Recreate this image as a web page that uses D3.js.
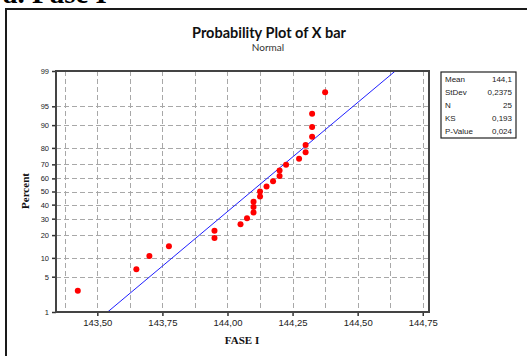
<!DOCTYPE html>
<html>
<head>
<meta charset="utf-8">
<script src="https://cdn.jsdelivr.net/npm/d3@7/dist/d3.min.js"></script>
<style>
  html, body { margin: 0; padding: 0; background: #fff; }
  svg { display: block; }
</style>
</head>
<body>
<svg id="chart" width="527" height="356"></svg>
<script>
// Subgroup means (X bar), Phase I
const xbar = [
  143.425, 143.650, 143.700, 143.775, 143.950, 143.950, 144.050, 144.075,
  144.100, 144.100, 144.100, 144.125, 144.125, 144.150, 144.175, 144.200,
  144.200, 144.225, 144.275, 144.300, 144.300, 144.325, 144.325, 144.325,
  144.375
];
const xTicks = [143.50, 143.75, 144.00, 144.25, 144.50, 144.75];
const xGrid = [143.375, 143.50, 143.625, 143.75, 143.875, 144.00, 144.125,
               144.25, 144.375, 144.50, 144.625, 144.75];
const pctTicks = [1, 5, 10, 20, 30, 40, 50, 60, 70, 80, 90, 95, 99];
const statLabels = ["Mean", "StDev", "N", "KS", "P-Value"];
const ksStat = 0.193;
const pValue = 0.024;

// Inverse standard normal CDF (Acklam's rational approximation)
function qnorm(p) {
  const a = [-3.969683028665376e+01, 2.209460984245205e+02, -2.759285104469687e+02,
             1.383577518672690e+02, -3.066479806614716e+01, 2.506628277459239e+00];
  const b = [-5.447609879822406e+01, 1.615858368580409e+02, -1.556989798598866e+02,
             6.680131188771972e+01, -1.328068155288572e+01];
  const c = [-7.784894002430293e-03, -3.223964580411365e-01, -2.400758277161838e+00,
             -2.549732539343734e+00, 4.374664141464968e+00, 2.938163982698783e+00];
  const d = [7.784695709041462e-03, 3.224671290700398e-01, 2.445134137142996e+00,
             3.754408661907416e+00];
  const plow = 0.02425, phigh = 1 - plow;
  let q, r;
  if (p < plow) {
    q = Math.sqrt(-2 * Math.log(p));
    return (((((c[0]*q+c[1])*q+c[2])*q+c[3])*q+c[4])*q+c[5]) /
           ((((d[0]*q+d[1])*q+d[2])*q+d[3])*q+1);
  }
  if (p <= phigh) {
    q = p - 0.5; r = q * q;
    return (((((a[0]*r+a[1])*r+a[2])*r+a[3])*r+a[4])*r+a[5])*q /
           (((((b[0]*r+b[1])*r+b[2])*r+b[3])*r+b[4])*r+1);
  }
  q = Math.sqrt(-2 * Math.log(1 - p));
  return -(((((c[0]*q+c[1])*q+c[2])*q+c[3])*q+c[4])*q+c[5]) /
          ((((d[0]*q+d[1])*q+d[2])*q+d[3])*q+1);
}

const svg = d3.select("#chart");
const comma = s => s.replace(".", ",");

// Outer frame and heading
svg.append("rect").attr("x", 6).attr("y", 9).attr("width", 640).attr("height", 420)
  .attr("fill", "none").attr("stroke", "#1a1a1a").attr("stroke-width", 2);
svg.append("text").attr("x", 3).attr("y", 3)
  .attr("font-family", "Liberation Serif").attr("font-weight", "bold")
  .attr("font-size", 29).attr("fill", "#000").text("a. Fase I");

// Plot geometry
const L = 56, R = 429, T = 71, B = 312;
const sorted = xbar.slice().sort(d3.ascending);
const n = sorted.length;
const mean = d3.mean(sorted);
const sd = d3.deviation(sorted);

const x = d3.scaleLinear().domain([143.3413, 144.774]).range([L, R]);
const y = d3.scaleLinear().domain([qnorm(0.01), qnorm(0.99)]).range([B, T]);

// Grid
const grid = svg.append("g").attr("stroke", "#a8a8a8").attr("stroke-width", 1)
  .attr("stroke-dasharray", "5,3");
grid.selectAll("line.v").data(xGrid).join("line")
  .attr("x1", d => Math.round(x(d)) + 0.5).attr("x2", d => Math.round(x(d)) + 0.5)
  .attr("y1", T).attr("y2", B);
grid.selectAll("line.h").data(pctTicks.filter(p => p > 1 && p < 99)).join("line")
  .attr("x1", L).attr("x2", R)
  .attr("y1", d => Math.round(y(qnorm(d / 100))) + 0.5)
  .attr("y2", d => Math.round(y(qnorm(d / 100))) + 0.5);

// Axes
const xAxis = d3.axisBottom(x).tickValues(xTicks).tickSize(4).tickPadding(3)
  .tickFormat(d => comma(d3.format(".2f")(d)));
const gx = svg.append("g").attr("transform", `translate(0,${B})`).call(xAxis);
gx.select(".domain").remove();
gx.selectAll("line").attr("stroke", "#333").attr("stroke-width", 1.5);
gx.selectAll("text").attr("font-family", "Liberation Sans").attr("font-size", 9.5)
  .attr("fill", "#222");

const yAxis = d3.axisLeft(y).tickValues(pctTicks.map(p => qnorm(p / 100)))
  .tickSize(4).tickPadding(3)
  .tickFormat((d, i) => pctTicks[i]);
const gy = svg.append("g").attr("transform", `translate(${L},0)`).call(yAxis);
gy.select(".domain").remove();
gy.selectAll("line").attr("stroke", "#333").attr("stroke-width", 1.5);
gy.selectAll("text").attr("font-family", "Liberation Sans").attr("font-size", 7.5)
  .attr("fill", "#222");

// Fitted normal line, clipped to the plot area
svg.append("clipPath").attr("id", "plotclip").append("rect")
  .attr("x", L).attr("y", T).attr("width", R - L).attr("height", B - T);
const zLo = qnorm(0.01), zHi = qnorm(0.99);
svg.append("line").attr("clip-path", "url(#plotclip)")
  .attr("x1", x(mean + zLo * sd)).attr("y1", y(zLo))
  .attr("x2", x(mean + zHi * sd)).attr("y2", y(zHi))
  .attr("stroke", "#1f1fff").attr("stroke-width", 1);

// Plot box
svg.append("rect").attr("x", L).attr("y", T).attr("width", R - L).attr("height", B - T)
  .attr("fill", "none").attr("stroke", "#444").attr("stroke-width", 2);

// Data points at median-rank plotting positions
svg.append("g").selectAll("circle").data(sorted).join("circle")
  .attr("cx", d => x(d))
  .attr("cy", (d, i) => y(qnorm((i + 1 - 0.3) / (n + 0.4))))
  .attr("r", 3).attr("fill", "#ff0000");

// Titles
svg.append("text").attr("x", 269).attr("y", 38).attr("text-anchor", "middle")
  .attr("font-family", "Lato").attr("font-weight", "bold").attr("font-size", 14.5)
  .attr("fill", "#111").text("Probability Plot of X bar");
svg.append("text").attr("x", 268).attr("y", 51).attr("text-anchor", "middle")
  .attr("font-family", "Lato").attr("font-size", 10)
  .attr("fill", "#333").text("Normal");
svg.append("text").attr("x", 242).attr("y", 344).attr("text-anchor", "middle")
  .attr("font-family", "Liberation Serif").attr("font-weight", "bold").attr("font-size", 11)
  .attr("fill", "#111").text("FASE I");
svg.append("text").attr("transform", "translate(29,191) rotate(-90)")
  .attr("text-anchor", "middle")
  .attr("font-family", "Liberation Serif").attr("font-weight", "bold").attr("font-size", 11)
  .attr("fill", "#111").text("Percent");

// Statistics box
const statValues = [
  comma(mean.toFixed(1)),
  comma(sd.toFixed(4)),
  String(n),
  comma(ksStat.toFixed(3)),
  comma(pValue.toFixed(3))
];
const bx = 441, by = 72, bw = 75, bh = 66;
svg.append("rect").attr("x", bx).attr("y", by).attr("width", bw).attr("height", bh)
  .attr("fill", "#fff").attr("stroke", "#222").attr("stroke-width", 1.2);
const rows = svg.append("g").attr("font-family", "Liberation Sans").attr("font-size", 8)
  .attr("fill", "#222");
rows.selectAll("text.lab").data(statLabels).join("text")
  .attr("x", bx + 4).attr("y", (d, i) => by + 10 + i * 13).text(d => d);
rows.selectAll("text.val").data(statValues).join("text")
  .attr("x", bx + bw - 4).attr("y", (d, i) => by + 10 + i * 13)
  .attr("text-anchor", "end").text(d => d);
</script>
</body>
</html>
